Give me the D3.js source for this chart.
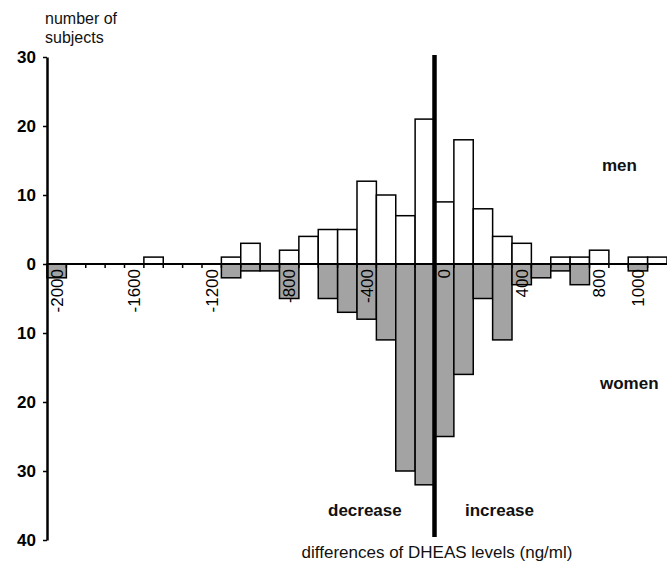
<!DOCTYPE html>
<html>
<head>
<meta charset="utf-8">
<script src="https://cdn.jsdelivr.net/npm/d3@7"></script>
<style>
  body { margin: 0; background: #fff; }
  svg { display: block; font-family: "Liberation Sans", Arial, sans-serif; }
  .bar { stroke: #000; stroke-width: 1.5; }
</style>
</head>
<body>
<svg id="chart" width="667" height="566"></svg>
<script>
// bins of 100 ng/ml, from -2000 up to 1100
let bins = [-2000,-1900,-1800,-1700,-1600,-1500,-1400,-1300,-1200,-1100,
  -1000,-900,-800,-700,-600,-500,-400,-300,-200,-100,
  0,100,200,300,400,500,600,700,800,900,1000,1100];
let men   = [0,0,0,0,0,1,0,0,0,1,3,0,2,4,5,5,12,10,7,21,9,18,8,4,3,0,1,1,2,0,1,1];
let women = [2,0,0,0,0,0,0,0,0,2,1,1,5,0,5,7,8,11,30,32,25,16,5,11,3,2,1,3,0,0,1,0];
let xLabels = ["-2000","-1600","-1200","-800","-400","0","400","800","1000"];
let yTicks = [30,20,10,0,-10,-20,-30,-40];

let svg = d3.select('#chart');

let x = d3.scaleBand()
  .domain(bins.map(String))
  .range([47, 667])
  .padding(0);

let y = d3.scaleLinear()
  .domain([-40, 30])
  .range([540, 57]);

let rows = bins.map(function(b, i) {
  return {bin: String(b), men: men[i], women: women[i]};
});

// women bars go down from zero
svg.append('g')
  .selectAll('rect')
  .data(rows.filter(d => d.women > 0))
  .enter()
  .append('rect')
  .attr('class', 'bar')
  .attr('fill', '#a3a3a3')
  .attr('x', d => x(d.bin))
  .attr('width', x.bandwidth())
  .attr('y', y(0))
  .attr('height', d => y(-d.women) - y(0));

// men bars go up
svg.append('g')
  .selectAll('rect')
  .data(rows.filter(d => d.men > 0))
  .enter()
  .append('rect')
  .attr('class', 'bar')
  .attr('fill', '#fff')
  .attr('x', d => x(d.bin))
  .attr('width', x.bandwidth())
  .attr('y', d => y(d.men))
  .attr('height', d => y(0) - y(d.men));

// x axis line with small ticks between bins
let xa = svg.append('g');
xa.append('line')
  .attr('x1', 47).attr('x2', 667)
  .attr('y1', y(0)).attr('y2', y(0))
  .attr('stroke', '#000').attr('stroke-width', 2);
xa.selectAll('line.tk')
  .data(bins.slice(1))
  .enter()
  .append('line')
  .attr('class', 'tk')
  .attr('x1', d => x(String(d))).attr('x2', d => x(String(d)))
  .attr('y1', y(0)).attr('y2', y(0) + 4)
  .attr('stroke', '#000').attr('stroke-width', 1.5);

xa.selectAll('text')
  .data(xLabels)
  .enter()
  .append('text')
  .attr('transform', d => 'translate(' + (x(d) + x.bandwidth() / 2) + ',' + (y(0) + 5) + ') rotate(-90)')
  .attr('dy', '0.35em')
  .attr('text-anchor', 'end')
  .attr('font-size', 17)
  .text(d => d);

// y axis, women counts shown as positive numbers
let ya = svg.append('g')
  .attr('transform', 'translate(47,0)')
  .call(d3.axisLeft(y)
    .tickValues(yTicks)
    .tickSize(4)
    .tickSizeOuter(0)
    .tickFormat(d => Math.abs(d)));
ya.select('.domain').attr('stroke-width', 2.5);
ya.selectAll('.tick line').attr('stroke-width', 1.5);
ya.selectAll('.tick text')
  .attr('x', -11)
  .attr('font-size', 17)
  .attr('font-weight', 'bold')
  .attr('font-family', '"Liberation Sans", Arial, sans-serif')
  .attr('fill', '#000');

// thick line at zero change
svg.append('line')
  .attr('x1', x('0')).attr('x2', x('0'))
  .attr('y1', y(30) - 2).attr('y2', 537)
  .attr('stroke', '#000').attr('stroke-width', 4.5);

// labels
let txt = svg.append('g').attr('fill', '#111');
txt.append('text').attr('x', 45).attr('y', 24).attr('font-size', 16).text('number of');
txt.append('text').attr('x', 45).attr('y', 43).attr('font-size', 16).text('subjects');
txt.append('text').attr('x', 602).attr('y', 171).attr('font-size', 17).attr('font-weight', 'bold').text('men');
txt.append('text').attr('x', 600).attr('y', 389).attr('font-size', 17).attr('font-weight', 'bold').text('women');
txt.append('text').attr('x', 328).attr('y', 516).attr('font-size', 17).attr('font-weight', 'bold').text('decrease');
txt.append('text').attr('x', 465).attr('y', 516).attr('font-size', 17).attr('font-weight', 'bold').text('increase');
txt.append('text').attr('x', 437).attr('y', 558).attr('text-anchor', 'middle').attr('font-size', 17)
  .text('differences of DHEAS levels (ng/ml)');
</script>
</body>
</html>
